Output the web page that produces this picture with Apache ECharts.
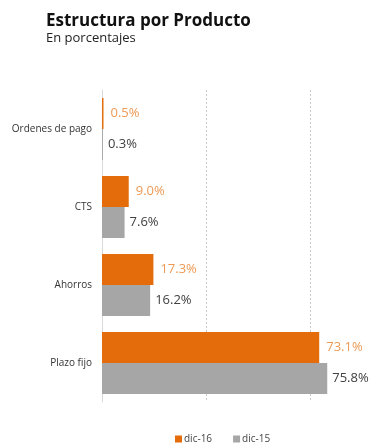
<!DOCTYPE html>
<html>
<head>
<meta charset="utf-8">
<script src="https://cdn.jsdelivr.net/npm/echarts@6/dist/echarts.min.js"></script>
<style>
  html, body { margin: 0; padding: 0; background: #fff; }
  #chart { width: 370px; height: 448px; }
</style>
</head>
<body>
<div id="chart"></div>
<script>
// categorías de arriba a abajo
const categories = ['Ordenes de pago', 'CTS', 'Ahorros', 'Plazo fijo'];
const dic16 = [0.5, 9.0, 17.3, 73.1];
const dic15 = [0.3, 7.6, 16.2, 75.8];
const seriesNames = ['dic-16', 'dic-15'];

const chart = echarts.init(document.getElementById('chart'));

const option = {
  animation: false,
  textStyle: { fontFamily: 'Open Sans, Noto Sans, sans-serif' },
  title: {
    text: 'Estructura por Producto',
    subtext: 'En porcentajes',
    left: 41,
    top: 8,
    itemGap: 2,
    textStyle: { fontSize: 17, fontWeight: 'bold', color: '#111' },
    subtextStyle: { fontSize: 13, color: '#222' }
  },
  legend: {
    bottom: 4,
    left: 175,
    padding: 0,
    itemWidth: 7,
    itemHeight: 7,
    itemGap: 21,
    icon: 'rect',
    textStyle: { fontSize: 10, color: '#444', padding: [0, 0, 0, -3] },
    data: seriesNames
  },
  grid: {
    left: 102,
    width: 312,
    top: 90,
    bottom: 46,
    outerBoundsMode: 'none',
    containLabel: false
  },
  xAxis: {
    type: 'value',
    min: 0,
    max: 105,
    interval: 35,
    axisLabel: { show: false },
    axisLine: { show: false },
    axisTick: { show: false },
    splitLine: { lineStyle: { color: '#c8c8c8', type: [2, 2], width: 1 } }
  },
  yAxis: {
    type: 'category',
    inverse: true,
    data: categories,
    axisLine: { lineStyle: { color: '#d9d9d9' } },
    axisTick: { show: false },
    axisLabel: { fontSize: 10, color: '#333', margin: 10 }
  },
  series: [
    {
      name: seriesNames[0],
      type: 'bar',
      data: dic16,
      barWidth: 31,
      barGap: '0%',
      itemStyle: { color: '#e46c0a' },
      label: {
        show: true,
        position: 'right',
        distance: 7,
        fontSize: 13,
        color: '#ee9a55',
        formatter: p => p.value.toFixed(1) + '%'
      }
    },
    {
      name: seriesNames[1],
      type: 'bar',
      data: dic15,
      barWidth: 31,
      barGap: '0%',
      itemStyle: { color: '#a6a6a6' },
      label: {
        show: true,
        position: 'right',
        distance: 5,
        fontSize: 13,
        color: '#404040',
        formatter: p => p.value.toFixed(1) + '%'
      }
    }
  ]
};

chart.setOption(option);
</script>
</body>
</html>
